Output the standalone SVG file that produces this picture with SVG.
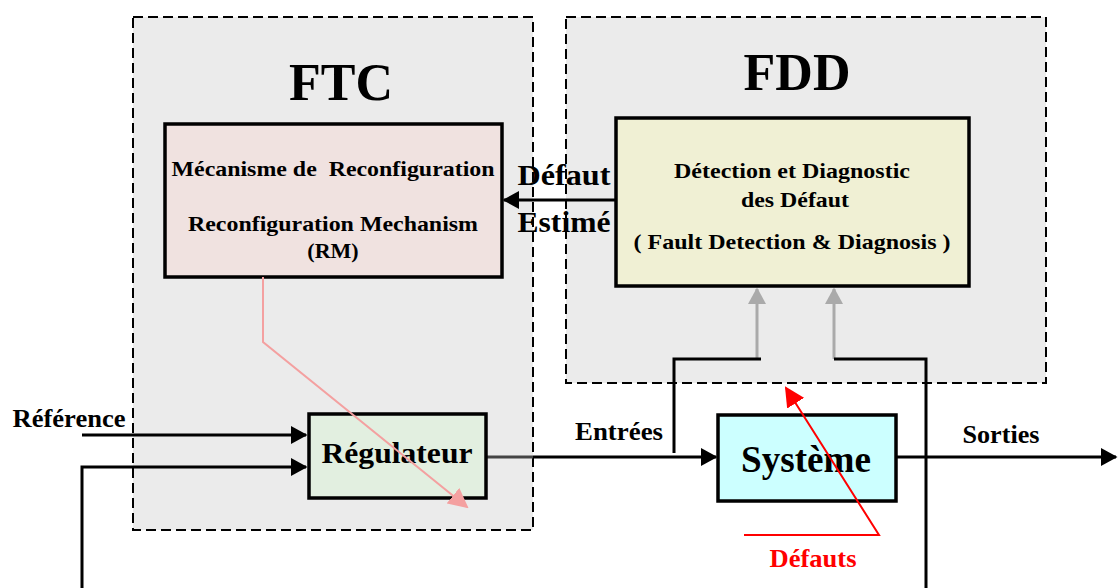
<svg xmlns="http://www.w3.org/2000/svg" width="1118" height="588" viewBox="0 0 1118 588">
<defs>
<style>
text{font-family:"Liberation Serif","Times New Roman",serif;font-weight:bold;fill:#000}
.zone{fill:#ebebeb;stroke:#000;stroke-width:2;stroke-dasharray:10 5}
.box{stroke:#000;stroke-width:3.5}
.ln{fill:none;stroke:#000;stroke-width:3}
.gr{fill:none;stroke:#aaaaaa;stroke-width:3}
</style>
<marker id="ab" markerWidth="6" markerHeight="6" refX="5" refY="3" orient="auto" markerUnits="strokeWidth"><path d="M0,0 L5.5,3 L0,6 Z" fill="#000"/></marker>
<marker id="ag" markerWidth="6" markerHeight="6" refX="5" refY="3" orient="auto" markerUnits="strokeWidth"><path d="M0,0 L5.5,3 L0,6 Z" fill="#aaaaaa"/></marker>
<marker id="ap" markerWidth="10" markerHeight="10" refX="9" refY="5" orient="auto" markerUnits="strokeWidth"><path d="M0,0 L10,5 L0,10 Z" fill="#f4a0a0"/></marker>
<marker id="ar" markerWidth="10" markerHeight="10" refX="9" refY="5" orient="auto" markerUnits="strokeWidth"><path d="M0,0 L10,5 L0,10 Z" fill="#ff0000"/></marker>
</defs>
<g id="ftc">
<rect class="zone" x="133" y="17" width="400" height="513"/>
<text x="341" y="100" font-size="52" text-anchor="middle">FTC</text>
</g>
<g id="fdd">
<rect class="zone" x="566" y="17" width="480" height="366"/>
<text x="797" y="90" font-size="52" text-anchor="middle">FDD</text>
</g>
<g id="connectors">
<polyline class="gr" points="757,359 757,289" marker-end="url(#ag)"/>
<polyline class="gr" points="834,359 834,289" marker-end="url(#ag)"/>
<polyline class="ln" points="674,453 674,359 761,359"/>
<polyline class="ln" points="834,359 926,359 926,588"/>
<line class="ln" x1="615" y1="200" x2="504" y2="200" marker-end="url(#ab)"/>
<line class="ln" x1="82" y1="435" x2="306" y2="435" marker-end="url(#ab)"/>
<polyline class="ln" points="82,588 82,467 306,467" marker-end="url(#ab)"/>
<line x1="487" y1="457" x2="533" y2="457" stroke="#444" stroke-width="3"/>
<line class="ln" x1="533" y1="457" x2="716" y2="457" marker-end="url(#ab)"/>
<line class="ln" x1="896" y1="457" x2="1116" y2="457" marker-end="url(#ab)"/>
</g>
<g id="rm">
<rect class="box" x="165" y="124" width="337" height="153" fill="#f0e2e0"/>
<text x="333" y="176" font-size="22" text-anchor="middle" textLength="323" lengthAdjust="spacingAndGlyphs" xml:space="preserve">Mécanisme de  Reconfiguration</text>
<text x="333" y="231" font-size="22" text-anchor="middle" textLength="290" lengthAdjust="spacingAndGlyphs">Reconfiguration Mechanism</text>
<text x="333" y="258" font-size="22" text-anchor="middle">(RM)</text>
</g>
<g id="fddbox">
<rect class="box" x="616" y="118" width="353" height="168" fill="#f0f0d4"/>
<text x="792" y="178" font-size="22" text-anchor="middle" textLength="236" lengthAdjust="spacingAndGlyphs">Détection et Diagnostic</text>
<text x="795" y="207" font-size="22" text-anchor="middle" textLength="108" lengthAdjust="spacingAndGlyphs">des Défaut</text>
<text x="792" y="249" font-size="22" text-anchor="middle" textLength="317" lengthAdjust="spacingAndGlyphs">( Fault Detection &amp; Diagnosis )</text>
</g>
<g id="defaut-estime">
<text x="564" y="185" font-size="30" text-anchor="middle" textLength="93" lengthAdjust="spacingAndGlyphs">Défaut</text>
<text x="564" y="232" font-size="30" text-anchor="middle" textLength="93" lengthAdjust="spacingAndGlyphs">Estimé</text>
</g>
<g id="regulateur">
<rect class="box" x="309" y="414" width="177" height="84" fill="#e2efe0"/>
<text x="397" y="463" font-size="30" text-anchor="middle" textLength="151" lengthAdjust="spacingAndGlyphs">Régulateur</text>
</g>
<g id="systeme">
<rect class="box" x="718" y="415" width="178" height="86" fill="#ccffff"/>
<text x="806" y="472" font-size="37" text-anchor="middle" textLength="130" lengthAdjust="spacingAndGlyphs">Système</text>
</g>
<g id="labels">
<text x="69" y="427" font-size="25" text-anchor="middle" textLength="113" lengthAdjust="spacingAndGlyphs">Référence</text>
<text x="619" y="440" font-size="25" text-anchor="middle" textLength="88" lengthAdjust="spacingAndGlyphs">Entrées</text>
<text x="1001" y="443" font-size="25" text-anchor="middle" textLength="77" lengthAdjust="spacingAndGlyphs">Sorties</text>
<text x="813" y="567" font-size="25" text-anchor="middle" textLength="87" lengthAdjust="spacingAndGlyphs" style="fill:#ff0000">Défauts</text>
</g>
<g id="overlay-arrows">
<polyline points="263,277 263,342 467,507" fill="none" stroke="#f4a0a0" stroke-width="2" marker-end="url(#ap)"/>
<polyline points="744,535 879,535 786,388" fill="none" stroke="#ff0000" stroke-width="2" marker-end="url(#ar)"/>
</g>
</svg>
